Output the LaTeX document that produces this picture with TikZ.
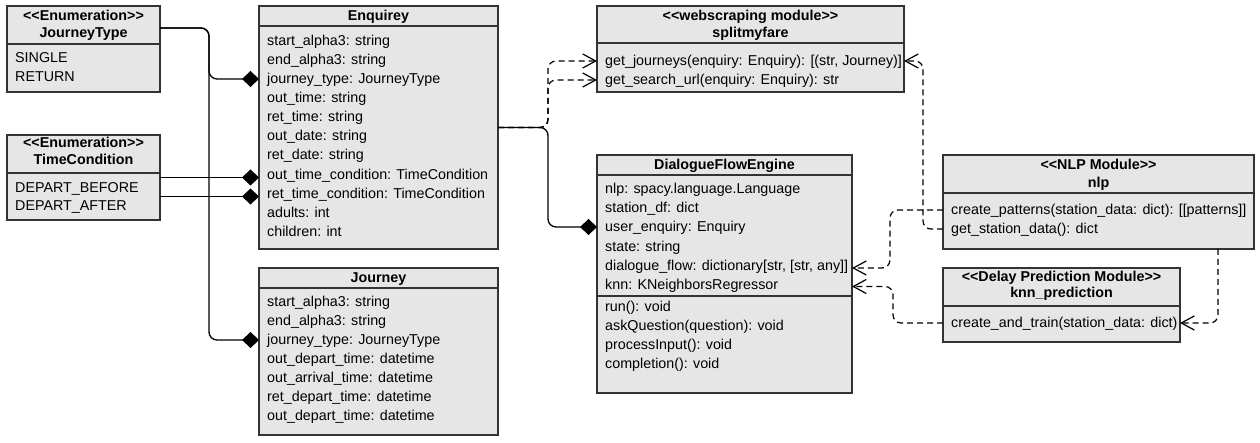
\documentclass[tikz,border=0pt]{standalone}
\usepackage{fontspec}
\setmainfont{Liberation Sans}
\usetikzlibrary{arrows.meta,calc}
\definecolor{boxfill}{HTML}{E6E6E6}
\definecolor{boxline}{HTML}{333333}
\begin{document}
\begin{tikzpicture}[x=1pt,y=-1pt,
 umlbox/.style={draw=boxline, fill=boxfill, line width=1.3pt, inner sep=0pt, outer sep=0pt, anchor=north west},
 divline/.style={draw=boxline, line width=1.3pt},
 row/.style={anchor=west, inner sep=0pt, text height=9.5pt, text depth=0pt, font=\fontsize{14.3pt}{17pt}\selectfont},
 hd/.style={anchor=center, inner sep=0pt, text height=9.5pt, text depth=0pt, font=\fontsize{14.3pt}{17pt}\selectfont\bfseries},
 comp/.style={draw=black, line width=1.3pt, rounded corners=8pt, -{Diamond[length=17pt,width=16pt]}},
 dep/.style={draw=black, line width=1.2pt, dash pattern=on 6pt off 4pt, rounded corners=8pt, -{Straight Barb[length=13pt,width=14pt]}}]
\useasboundingbox (0,0) rectangle (1260,443);

% ---------- boxes ----------
\node[umlbox, minimum width=153pt, minimum height=86pt] (jt) at (7,6) {};
\node[umlbox, minimum width=153pt, minimum height=85pt] (tc) at (7,135) {};
\node[umlbox, minimum width=239pt, minimum height=243pt] (enq) at (259,6) {};
\node[umlbox, minimum width=239pt, minimum height=167pt] (jour) at (259,268) {};
\node[umlbox, minimum width=307pt, minimum height=86pt] (smf) at (597,6) {};
\node[umlbox, minimum width=255pt, minimum height=238pt] (dfe) at (597,155) {};
\node[umlbox, minimum width=311pt, minimum height=94pt] (nlp) at (943,155) {};
\node[umlbox, minimum width=237pt, minimum height=74pt] (knnp) at (943,268) {};

% ---------- dividers ----------
\draw[divline] (jt.west |- 0,44) -- (jt.east |- 0,44);
\draw[divline] (tc.west |- 0,173) -- (tc.east |- 0,173);
\draw[divline] (enq.west |- 0,26) -- (enq.east |- 0,26);
\draw[divline] (jour.west |- 0,288) -- (jour.east |- 0,288);
\draw[divline] (smf.west |- 0,43) -- (smf.east |- 0,43);
\draw[divline] (dfe.west |- 0,175) -- (dfe.east |- 0,175);
\draw[divline] (dfe.west |- 0,296) -- (dfe.east |- 0,296);
\draw[divline] (nlp.west |- 0,193) -- (nlp.east |- 0,193);
\draw[divline] (knnp.west |- 0,306) -- (knnp.east |- 0,306);

% ---------- headers ----------
\node[hd] (jt-h1) at (83.5,16) {<{}<Enumeration>{}>};
\node[hd] (jt-h2) at (83.5,33) {JourneyType};
\node[hd] (tc-h1) at (83.5,143) {<{}<Enumeration>{}>};
\node[hd] (tc-h2) at (83.5,160) {TimeCondition};
\node[hd] (enq-h) at (378.5,16) {Enquirey};
\node[hd] (jour-h) at (378.5,278) {Journey};
\node[hd] (smf-h1) at (750.5,16) {<{}<webscraping module>{}>};
\node[hd] (smf-h2) at (750.5,33) {splitmyfare};
\node[hd] (dfe-h) at (724.5,165) {DialogueFlowEngine};
\node[hd] (nlp-h1) at (1098.5,165) {<{}<NLP Module>{}>};
\node[hd] (nlp-h2) at (1098.5,183) {nlp};
\node[hd] (knnp-h1) at (1061.5,277) {<{}<Delay Prediction Module>{}>};
\node[hd] (knnp-h2) at (1061.5,293) {knn\_prediction};

% ---------- rows ----------
\node[row] (jt-r1) at (15,58) {SINGLE};
\node[row] (jt-r2) at (15,77) {RETURN};
\node[row] (tc-r1) at (15,188) {DEPART\_BEFORE};
\node[row] (tc-r2) at (15,206) {DEPART\_AFTER};

\node[row] (enq-r1) at (267,41) {start\_alpha3: string};
\node[row] (enq-r2) at (267,60) {end\_alpha3: string};
\node[row] (enq-r3) at (267,79) {journey\_type: JourneyType};
\node[row] (enq-r4) at (267,98) {out\_time: string};
\node[row] (enq-r5) at (267,117) {ret\_time: string};
\node[row] (enq-r6) at (267,136) {out\_date: string};
\node[row] (enq-r7) at (267,155) {ret\_date: string};
\node[row] (enq-r8) at (267,175) {out\_time\_condition: TimeCondition};
\node[row] (enq-r9) at (267,194) {ret\_time\_condition: TimeCondition};
\node[row] (enq-r10) at (267,213) {adults: int};
\node[row] (enq-r11) at (267,232) {children: int};

\node[row] (jour-r1) at (267,302) {start\_alpha3: string};
\node[row] (jour-r2) at (267,321) {end\_alpha3: string};
\node[row] (jour-r3) at (267,340) {journey\_type: JourneyType};
\node[row] (jour-r4) at (267,359) {out\_depart\_time: datetime};
\node[row] (jour-r5) at (267,378) {out\_arrival\_time: datetime};
\node[row] (jour-r6) at (267,397) {ret\_depart\_time: datetime};
\node[row] (jour-r7) at (267,416) {out\_depart\_time: datetime};

\node[row] (smf-r1) at (605,61) {get\_journeys(enquiry: Enquiry): [(str, Journey)]};
\node[row] (smf-r2) at (605,80) {get\_search\_url(enquiry: Enquiry): str};

\node[row] (dfe-r1) at (605,189) {nlp: spacy.language.Language};
\node[row] (dfe-r2) at (605,208) {station\_df: dict};
\node[row] (dfe-r3) at (605,227) {user\_enquiry: Enquiry};
\node[row] (dfe-r4) at (605,247) {state: string};
\node[row] (dfe-r5) at (605,266) {dialogue\_flow: dictionary[str, [str, any]]};
\node[row] (dfe-r6) at (605,285) {knn: KNeighborsRegressor};
\node[row] (dfe-r7) at (605,307) {run(): void};
\node[row] (dfe-r8) at (605,326) {askQuestion(question): void};
\node[row] (dfe-r9) at (605,345) {processInput(): void};
\node[row] (dfe-r10) at (605,364) {completion(): void};

\node[row] (nlp-r1) at (951,210) {create\_patterns(station\_data: dict): [[patterns]]};
\node[row] (nlp-r2) at (951,229) {get\_station\_data(): dict};

\node[row] (knnp-r1) at (951,323) {create\_and\_train(station\_data: dict)};

% ---------- compositions ----------
\draw[comp] ([yshift=-22pt]jt.north east) -| ($(enq.west |- enq-r3)+(-50,0)$) -- (enq.west |- enq-r3);
\draw[comp] ([yshift=-22pt]jt.north east) -| ($(jour.west |- jour-r3)+(-50,0)$) -- (jour.west |- jour-r3);
\draw[comp] ($(tc.east |- enq-r8)+(0,2.5)$) -- ($(enq.west |- enq-r8)+(0,2.5)$);
\draw[comp] ($(tc.east |- enq-r9)+(0,2.5)$) -- ($(enq.west |- enq-r9)+(0,2.5)$);
\draw[comp] (enq.east) -| ($(dfe.west |- dfe-r3)+(-49,0)$) -- (dfe.west |- dfe-r3);

% ---------- dependencies ----------
\draw[dep] (enq.east) -| ($(smf.west |- smf-r1)+(-49,0)$) -- (smf.west |- smf-r1);
\draw[dep] (enq.east) -| ($(smf.west |- smf-r2)+(-49,0)$) -- (smf.west |- smf-r2);
\draw[dep] (nlp.west |- nlp-r2) -| ($(smf.east |- smf-r1)+(19,0)$) -- (smf.east |- smf-r1);
\draw[dep] (nlp.west |- nlp-r1) -| ($(dfe.east |- dfe-r5)+(38,2)$) -- ($(dfe.east |- dfe-r5)+(0,2)$);
\draw[dep] (knnp.west |- knnp-r1) -| ($(dfe.east |- dfe-r6)+(41,1.5)$) -- ($(dfe.east |- dfe-r6)+(0,1.5)$);
\draw[dep] ($(nlp.south)+(119.5,0)$) |- (knnp.east |- knnp-r1);
\end{tikzpicture}
\end{document}
